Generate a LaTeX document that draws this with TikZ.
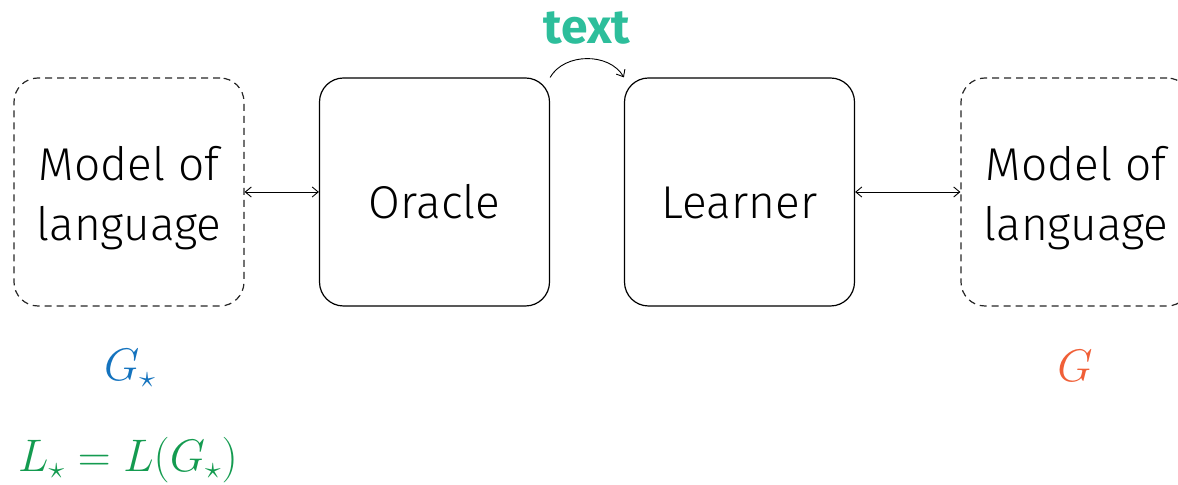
\documentclass[tikz,border=0pt]{standalone}
\usepackage{graphicx}
\usepackage[no-math]{fontspec}
\setmainfont{Fira Sans}[UprightFont=* Light, BoldFont=* Bold]
\usetikzlibrary{arrows.meta}
\definecolor{gblue}{RGB}{20,115,190}
\definecolor{gorange}{RGB}{240,95,55}
\definecolor{lgreen}{RGB}{20,155,80}
\definecolor{teal}{RGB}{45,190,155}
\newcommand{\scaledmath}[1]{\scalebox{1.1}{$#1$}}
\tikzset{
  box/.style={draw, line width=0.6pt, rounded corners=12pt, inner sep=0pt,
    minimum width=115pt, minimum height=114pt, align=center,
    font=\fontsize{23}{30}\selectfont},
  dbox/.style={box, dash pattern=on 3.5pt off 2.5pt, draw=black!85},
  link/.style={line width=0.45pt, {Straight Barb[length=3pt,width=5pt]}-{Straight Barb[length=3pt,width=5pt]}},
  mathlbl/.style={font=\fontsize{20.74}{25}\selectfont, inner sep=0pt}
}
\begin{document}
\begin{tikzpicture}[x=0.5pt,y=-0.5pt]
\useasboundingbox (0,0) rectangle (1178,485);
\clip (0,0) rectangle (1178,485);
\node[dbox, text height=53pt] (lm) at (129,192) {Model of\\language};
\node[box, text height=27pt, text depth=0pt] (or) at (434.5,192) {Oracle};
\node[box, text height=27pt, text depth=0pt] (le) at (739.5,192) {Learner};
\node[dbox, text height=53pt] (rm) at (1076,192) {Model of\\language};
\draw[link] (lm) -- (or);
\draw[link] (le) -- (rm);
\draw[line width=0.45pt, -{Straight Barb[length=3pt,width=5pt]}] (or.north east) to[bend left=60] (le.north west);
\node[font=\fontsize{24}{28}\selectfont\bfseries, text=teal, inner sep=0pt] (tx) at (587,28) {text};
\node[mathlbl, text=gblue] (gs) at (130,368) {\scaledmath{G_\star}};
\node[mathlbl, text=gorange] (g) at (1075,366) {\scaledmath{G}};
\node[mathlbl, text=lgreen] (ls) at (128,460) {\scaledmath{L_\star = L(G_\star)}};
\end{tikzpicture}
\end{document}
